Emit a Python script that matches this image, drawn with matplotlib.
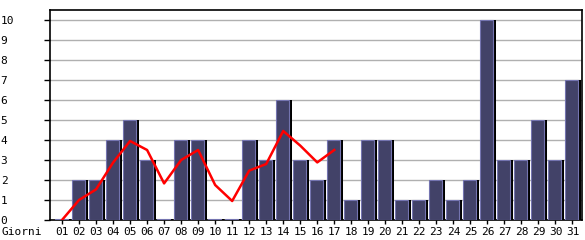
import matplotlib
matplotlib.use('Agg')
import matplotlib.pyplot as plt

days = ['%02d' % d for d in range(1, 32)]
visits = [0, 2, 2, 4, 5, 3, 0, 4, 4, 0, 0, 4, 3, 6, 3, 2, 4,
          1, 4, 4, 1, 1, 2, 1, 2, 10, 3, 3, 5, 3, 7]
trend = [0, 1.0, 1.53, 2.87, 3.95, 3.5, 1.83, 3.0, 3.5, 1.75, 0.95,
         2.47, 2.8, 4.45, 3.72, 2.88, 3.5]
y_ticks = list(range(0, 11))

W, H = 585, 240
fig = plt.figure(figsize=(W / 100, H / 100), dpi=100)
ax = fig.add_axes([50 / W, 20 / H, 532 / W, 210 / H])

x = list(range(1, len(days) + 1))
px = 1 / 17.0  # one pixel in data units
bw = 13 * px

# black shadow on the right, then the bar itself
shadow = [max(v, 0.06) for v in visits]
ax.bar([i - 0.5 * px + 2.5 * px for i in x], shadow, width=bw, color='black', zorder=2)
ax.bar([i - 0.5 * px for i in x], shadow, width=bw, color='#424268',
       edgecolor='#7474b0', linewidth=0.8, zorder=3)

ax.plot(x[:len(trend)], trend, color='#ff0000', linewidth=1.8, zorder=4)

ax.set_xlim(1 - 12 * px, 31 + 9.5 * px)
ax.set_ylim(0, 10.5)

for v in y_ticks[1:]:
    ax.axhline(v, color='#b0b0b0', linewidth=1.0, zorder=1)

font = dict(family='DejaVu Sans Mono', size=8)
ax.set_yticks(y_ticks)
ax.set_yticklabels([str(v) for v in y_ticks], **font)
for lab in ax.get_yticklabels():
    lab.set_ha('left')
ax.tick_params(axis='y', length=4, width=1, pad=31.5)

ax.set_xticks(x)
ax.set_xticklabels(days, **font)
ax.tick_params(axis='x', length=3, width=1, pad=2)

for s in ax.spines.values():
    s.set_linewidth(1.2)
    s.set_color('black')

fig.text(2 / W, 1 - 232 / H, 'Giorni', va='center', ha='left', **font)

fig.savefig('out.png', dpi=100)
